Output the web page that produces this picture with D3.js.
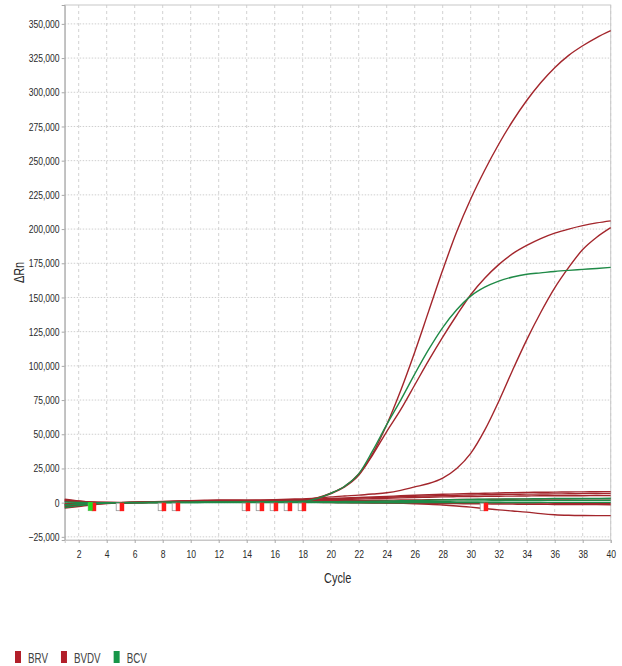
<!DOCTYPE html>
<html lang="en">
<head>
<meta charset="UTF-8">
<title>Amplification Plot</title>
<script src="https://cdn.jsdelivr.net/npm/d3@7/dist/d3.min.js"></script>
<style>
    body { margin: 0; background: #fff; font-family: "Liberation Sans", Arial, sans-serif; }
    .tick text { fill: #2a2a2a; font-size: 11px; }
</style>
</head>
<body>
<div id="chart"></div>
<script>
// cycle numbers (x)
const cycles = [1,2,3,4,5,6,7,8,9,10,11,12,13,14,15,16,17,18,19,20,
                21,22,23,24,25,26,27,28,29,30,31,32,33,34,35,36,37,38,39,40];

// ΔRn per cycle, in thousands
const brvHigh = [1.5,0.8,0.3,0.1,0,0.2,0.4,0.6,0.9,1.1,1.3,1.4,1.4,1.4,1.5,1.7,1.9,2.2,3.5,7,
                 12,21,36,57,82,110,140,170,198,222,243,262,279,294,307,318,327,334,340,345];
const bvdvMid = [-1,-0.5,0,0.1,0.1,0.3,0.5,0.7,0.9,1.0,1.2,1.3,1.3,1.3,1.4,1.6,1.8,2.0,3.3,6.5,
                 11.5,20,35,52,68,86,104,121,137,152,164,174,182,188,193,197,200,202.5,204.5,206];
const bcvAmp = [-2,-1,-0.3,0,0,0.1,0.2,0.3,0.4,0.4,0.5,0.5,0.5,0.5,0.6,0.7,0.8,1.0,3,6.8,
                12,21,38,57,75,94,112,128,141,151,157.5,162,165,167,168,169,169.8,170.5,171.2,172];
const brvLate = [2.5,1.2,0.4,0.1,0,0.2,0.5,0.8,1.2,1.5,1.8,2.0,2.0,1.9,2.0,2.2,2.5,2.8,3.2,4.2,
                 4.9,5.5,6.3,7.2,9,11.5,14,18,25,36,53,74,97,119,139,157,172,185,194,201];

const red1 = [2.0,1.0,0.3,0,0,0.2,0.4,0.6,0.9,1.2,1.5,1.6,1.6,1.5,1.6,1.8,2.0,2.2,2.6,3.0,
              3.4,3.8,4.2,4.6,5.0,5.4,5.8,6.1,6.4,6.7,6.9,7.1,7.3,7.5,7.6,7.7,7.8,7.9,8.0,8.1];
const red2 = [-4.0,-2.8,-1.5,-0.6,-0.2,0,0.2,0.4,0.6,0.9,1.1,1.2,1.3,1.3,1.4,1.5,1.7,1.9,2.2,2.5,
              2.9,3.3,3.7,4.0,4.3,4.6,4.9,5.2,5.4,5.6,5.8,6.0,6.1,6.2,6.3,6.4,6.5,6.6,6.7,6.8];
const red3 = [-2.5,-1.6,-0.8,-0.3,0,0.1,0.2,0.4,0.6,0.8,1.0,1.1,1.1,1.1,1.2,1.3,1.4,1.6,1.8,2.0,
              2.3,2.6,2.9,3.2,3.5,3.8,4.0,4.2,4.4,4.5,4.6,4.7,4.8,4.9,5.0,5.0,5.1,5.1,5.2,5.2];
const red4 = [1.0,0.5,0.1,0,0,0.1,0.3,0.5,0.7,0.9,1.0,1.0,1.0,0.9,0.9,1.0,1.1,1.2,1.3,1.4,
              1.5,1.6,1.7,1.8,1.9,2.0,2.1,2.2,2.3,2.4,2.4,2.5,2.5,2.6,2.6,2.7,2.7,2.8,2.8,2.8];
const red5 = [-1.0,-0.6,-0.2,0,0,0,0.1,0.2,0.3,0.4,0.5,0.5,0.5,0.4,0.4,0.4,0.5,0.5,0.5,0.5,
              0.4,0.4,0.3,0.3,0.2,0.2,0.1,0.1,0,0,-0.1,-0.2,-0.2,-0.3,-0.3,-0.4,-0.4,-0.5,-0.5,-0.5];
const red6 = [-1.8,-1.2,-0.5,-0.1,0,0.1,0.2,0.3,0.4,0.5,0.6,0.6,0.6,0.5,0.5,0.5,0.5,0.4,0.3,0.2,
              0.1,0,-0.1,-0.2,-0.3,-0.4,-0.5,-0.6,-0.7,-0.8,-0.9,-1.0,-1.1,-1.2,-1.2,-1.3,-1.3,-1.4,-1.4,-1.5];
const redLow = [-3.0,-2.0,-1.0,-0.4,-0.1,0,0.1,0.2,0.3,0.4,0.5,0.5,0.5,0.4,0.4,0.4,0.4,0.3,0.2,0.1,
                0,-0.1,-0.2,-0.3,-0.5,-0.8,-1.2,-1.7,-2.4,-3.3,-4.3,-5.3,-6.1,-6.9,-8.0,-8.8,-9.2,-9.4,-9.5,-9.5];

const green2 = [0.5,0.2,0,0,0,0,0.1,0.1,0.2,0.2,0.3,0.3,0.3,0.3,0.3,0.4,0.4,0.5,0.6,0.7,
                0.8,0.9,1.0,1.2,1.4,1.6,1.8,2.0,2.2,2.4,2.5,2.6,2.7,2.8,2.9,3.0,3.0,3.1,3.1,3.2];
const green3 = [-1.5,-0.8,-0.3,0,0,0,0,0.1,0.1,0.1,0.2,0.2,0.2,0.2,0.2,0.2,0.2,0.3,0.3,0.3,
                0.4,0.4,0.5,0.6,0.7,0.8,0.9,1.0,1.1,1.2,1.3,1.4,1.5,1.6,1.6,1.7,1.7,1.8,1.8,1.8];
const green4 = [-3.5,-2.2,-1.0,-0.3,0,0,0,0,0,0,0,0,0,0,0,0,0,0,0,0,
                -0.1,-0.1,-0.1,-0.1,-0.1,0,0,0,0,0,0.1,0.1,0.1,0.1,0.2,0.2,0.2,0.2,0.2,0.2];

const redSeries = [red1, red2, red3, red4, red5, red6, redLow, brvLate, bvdvMid, brvHigh];
const greenSeries = [green2, green3, green4, bcvAmp];

// baseline markers (cycle positions)
const markerCycles = [3, 5, 8, 9, 14, 15, 16, 17, 18, 31];
const greenMarkerCycles = [3];

const yTicks = [-25000,0,25000,50000,75000,100000,125000,150000,175000,200000,
                225000,250000,275000,300000,325000,350000];
const xTicks = [2,4,6,8,10,12,14,16,18,20,22,24,26,28,30,32,34,36,38,40];

const legendItems = ["BRV", "BVDV", "BCV"];
const legendColors = ["#b21f2a", "#b21f2a", "#179649"];

const RED = "#a3262c", GREEN = "#1f8a47";
const NARROW = 0.78;   // the original uses a condensed face

const W = 622, H = 666;
const mLeft = 64.7, mRight = 610.7, mTop = 5, mBottom = 540;

const svg = d3.select("#chart").append("svg")
    .attr("width", W).attr("height", H);

const x = d3.scaleLinear().domain([1, 40]).range([mLeft, mRight]);
const y = d3.scaleLinear().domain([-27300, 363800]).range([mBottom, mTop]);

// grid
svg.append("g").selectAll("line").data(xTicks).enter().append("line")
    .attr("x1", d => x(d)).attr("x2", d => x(d))
    .attr("y1", mTop).attr("y2", mBottom)
    .attr("stroke", "#d2d2d2").attr("stroke-dasharray", "3,3");
svg.append("g").selectAll("line").data(yTicks).enter().append("line")
    .attr("x1", mLeft).attr("x2", mRight)
    .attr("y1", d => y(d)).attr("y2", d => y(d))
    .attr("stroke", "#cfcfcf").attr("stroke-dasharray", "1.5,1.5");

// frame
svg.append("rect")
    .attr("x", mLeft).attr("y", mTop)
    .attr("width", mRight - mLeft).attr("height", mBottom - mTop)
    .attr("fill", "none").attr("stroke", "#c8c8c8");

// axes
const yAxis = svg.append("g")
    .attr("transform", `translate(${mLeft},0)`)
    .call(d3.axisLeft(y).tickValues(yTicks).tickFormat(d3.format(",")).tickSize(3).tickPadding(3.5));
const xAxis = svg.append("g")
    .attr("transform", `translate(0,${mBottom})`)
    .call(d3.axisBottom(x).tickValues(xTicks).tickSize(3).tickPadding(7));
[yAxis, xAxis].forEach(g => {
    g.select(".domain").attr("stroke", "#a8a8a8");
    g.selectAll(".tick line").attr("stroke", "#a8a8a8");
    g.selectAll(".tick text").attr("transform", `scale(${NARROW},1)`);
});
xAxis.select(".domain").attr("stroke", "#c8c8c8");

// lines
const line = d3.line()
    .x((d, i) => x(cycles[i]))
    .y(d => y(d * 1000))
    .curve(d3.curveMonotoneX);

const plot = svg.append("g");
plot.selectAll("path.red").data(redSeries).enter().append("path")
    .attr("class", "red")
    .attr("d", line)
    .attr("fill", "none").attr("stroke", RED).attr("stroke-width", 1.4);
plot.selectAll("path.green").data(greenSeries).enter().append("path")
    .attr("class", "green")
    .attr("d", line)
    .attr("fill", "none").attr("stroke", GREEN).attr("stroke-width", 1.4);

// markers
const y0 = y(0);
const mk = svg.append("g");
markerCycles.forEach(c => {
    mk.append("rect")
        .attr("x", x(c) - 4.5).attr("y", y0 + 0.5)
        .attr("width", 4.5).attr("height", 7.5)
        .attr("fill", "#fff").attr("stroke", "#999").attr("stroke-width", 0.8);
    mk.append("rect")
        .attr("x", x(c) - 1).attr("y", y0)
        .attr("width", 4.5).attr("height", 8.5)
        .attr("fill", "#ff1a1a");
});
greenMarkerCycles.forEach(c => {
    mk.append("rect")
        .attr("x", x(c) - 4.5).attr("y", y0 - 0.5)
        .attr("width", 4.5).attr("height", 8.5)
        .attr("fill", "#22dd22");
});

// axis titles
svg.append("text")
    .attr("transform", `translate(${(mLeft + mRight) / 2},583) scale(${NARROW},1)`)
    .attr("text-anchor", "middle")
    .style("font-size", "14px").attr("fill", "#2a2a2a")
    .text("Cycle");
svg.append("text")
    .attr("transform", `translate(24,${(mTop + mBottom) / 2}) rotate(-90) scale(${NARROW},1)`)
    .attr("text-anchor", "middle")
    .style("font-size", "14px").attr("fill", "#2a2a2a")
    .text("ΔRn");

// legend
let lx = 15;
const legend = svg.append("g");
legendItems.forEach((name, i) => {
    legend.append("rect")
        .attr("x", lx).attr("y", 651)
        .attr("width", 6).attr("height", 12)
        .attr("fill", legendColors[i]);
    const t = legend.append("text")
        .attr("transform", `translate(${lx + 13},663) scale(0.7,1)`)
        .style("font-size", "14px").attr("fill", "#444")
        .text(name);
    lx += 13 + t.node().getComputedTextLength() * 0.7 + 13;
});
</script>
</body>
</html>
